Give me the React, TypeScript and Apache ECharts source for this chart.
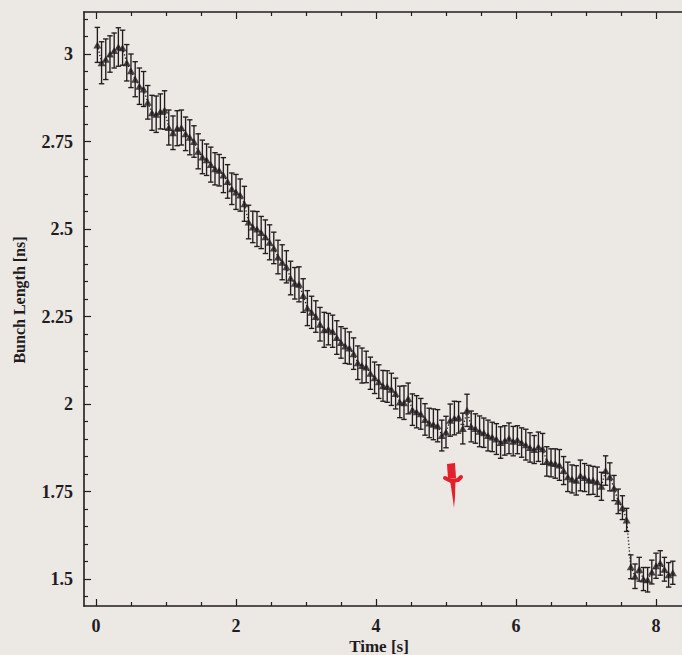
import React, { useEffect, useRef } from "react";
import * as echarts from "echarts";

// ---- data ----
const times = [
  0.02, 0.08, 0.14, 0.2, 0.26, 0.32, 0.38, 0.44, 0.5, 0.56,
  0.62, 0.68, 0.74, 0.8, 0.86, 0.92, 0.98, 1.04, 1.1, 1.16,
  1.22, 1.28, 1.34, 1.4, 1.46, 1.52, 1.58, 1.64, 1.7, 1.76,
  1.82, 1.88, 1.94, 2.0, 2.06, 2.12, 2.18, 2.24, 2.3, 2.36,
  2.42, 2.48, 2.54, 2.6, 2.66, 2.72, 2.78, 2.84, 2.9, 2.96,
  3.02, 3.08, 3.14, 3.2, 3.26, 3.32, 3.38, 3.44, 3.5, 3.56,
  3.62, 3.68, 3.74, 3.8, 3.86, 3.92, 3.98, 4.04, 4.1, 4.16,
  4.22, 4.28, 4.34, 4.4, 4.46, 4.52, 4.58, 4.64, 4.7, 4.76,
  4.82, 4.88, 4.94, 5.0, 5.06, 5.12, 5.18, 5.24, 5.3, 5.36,
  5.42, 5.48, 5.54, 5.6, 5.66, 5.72, 5.78, 5.84, 5.9, 5.96,
  6.02, 6.08, 6.14, 6.2, 6.26, 6.32, 6.38, 6.44, 6.5, 6.56,
  6.62, 6.68, 6.74, 6.8, 6.86, 6.92, 6.98, 7.04, 7.1, 7.16,
  7.22, 7.28, 7.34, 7.4, 7.46, 7.52, 7.58, 7.64, 7.7, 7.76,
  7.82, 7.88, 7.94, 8.0, 8.06, 8.12, 8.18, 8.24,
];

const bunchLength = [
  3.026, 2.975, 2.985, 3.0, 3.01, 3.02, 3.018, 2.975, 2.952, 2.928,
  2.908, 2.9, 2.862, 2.832, 2.828, 2.836, 2.84, 2.79, 2.775, 2.788,
  2.79, 2.772, 2.762, 2.75, 2.722, 2.706, 2.698, 2.684, 2.672, 2.668,
  2.654, 2.636, 2.615, 2.606, 2.597, 2.572, 2.52, 2.506, 2.5, 2.49,
  2.478, 2.462, 2.446, 2.42, 2.405, 2.392, 2.36, 2.345, 2.342, 2.31,
  2.274, 2.262, 2.25, 2.228, 2.212, 2.214, 2.208, 2.19, 2.176, 2.166,
  2.16, 2.144, 2.118, 2.11, 2.106, 2.088, 2.075, 2.064, 2.052, 2.05,
  2.042, 2.03, 2.006, 2.004, 2.016, 1.984, 1.978, 1.972, 1.956, 1.946,
  1.942, 1.938, 1.91, 1.92, 1.954, 1.96, 1.962, 1.93, 1.982, 1.936,
  1.93, 1.922, 1.918, 1.91, 1.906, 1.9, 1.89, 1.896, 1.902, 1.894,
  1.898, 1.89, 1.884, 1.876, 1.87, 1.878, 1.872, 1.836, 1.832, 1.83,
  1.826, 1.81, 1.792, 1.786, 1.782, 1.796, 1.79, 1.783, 1.782, 1.778,
  1.765, 1.81, 1.792, 1.76, 1.722, 1.704, 1.669, 1.535, 1.508, 1.528,
  1.5, 1.498, 1.52, 1.538, 1.546, 1.528, 1.512, 1.518,
];

const errors = [
  0.05, 0.06, 0.058, 0.052, 0.05, 0.055, 0.05, 0.052, 0.048, 0.05,
  0.052, 0.05, 0.048, 0.05, 0.052, 0.05, 0.055, 0.05, 0.048, 0.05,
  0.05, 0.048, 0.05, 0.045, 0.05, 0.048, 0.045, 0.05, 0.046, 0.045,
  0.05, 0.048, 0.045, 0.05, 0.046, 0.05, 0.048, 0.045, 0.05, 0.046,
  0.048, 0.05, 0.045, 0.048, 0.05, 0.046, 0.048, 0.045, 0.05, 0.048,
  0.05, 0.046, 0.045, 0.048, 0.05, 0.045, 0.046, 0.048, 0.045, 0.05,
  0.046, 0.045, 0.048, 0.05, 0.045, 0.046, 0.045, 0.048, 0.044, 0.045,
  0.046, 0.044, 0.045, 0.048, 0.044, 0.045, 0.046, 0.044, 0.045, 0.042,
  0.044, 0.046, 0.044, 0.045, 0.046, 0.048, 0.045, 0.044, 0.046, 0.044,
  0.042, 0.044, 0.042, 0.044, 0.042, 0.044, 0.045, 0.042, 0.044, 0.042,
  0.04, 0.042, 0.044, 0.042, 0.04, 0.042, 0.044, 0.042, 0.04, 0.042,
  0.044, 0.04, 0.042, 0.04, 0.042, 0.044, 0.04, 0.042, 0.04, 0.042,
  0.04, 0.042, 0.04, 0.036, 0.035, 0.034, 0.033, 0.034, 0.035, 0.034,
  0.033, 0.035, 0.034, 0.036, 0.035, 0.034, 0.035, 0.033,
];

const xMajorTicks = [0, 2, 4, 6, 8];
const xMinorTicks = [0.5, 1, 1.5, 2.5, 3, 3.5, 4.5, 5, 5.5, 6.5, 7, 7.5];
const yMajorTicks = [1.5, 1.75, 2, 2.25, 2.5, 2.75, 3];
const yMinorTicks = [
  1.45, 1.55, 1.6, 1.65, 1.7, 1.8, 1.85, 1.9, 1.95, 2.05, 2.1, 2.15, 2.2,
  2.3, 2.35, 2.4, 2.45, 2.55, 2.6, 2.65, 2.7, 2.8, 2.85, 2.9, 2.95, 3.05, 3.1,
];

// the frame continues past the right edge of the picture
const X_MIN = -0.171;
const X_MAX = 8.514;
const Y_MIN = 1.423;
const Y_MAX = 3.12;

const INK = "#221b1f";
const PAPER = "#ece9e4";
const RED = "#e3202c";
const FONT = '"Liberation Serif", "Times New Roman", serif';

export default function App() {
  const ref = useRef<HTMLDivElement>(null);

  useEffect(() => {
    if (!ref.current) return;
    document.body.style.margin = "0";
    document.body.style.background = PAPER;
    const chart = echarts.init(ref.current, undefined, { renderer: "svg" });

    const base = (min: number, max: number, position: string, gridIndex: number) => ({
      type: "value",
      gridIndex,
      min,
      max,
      position,
      splitLine: { show: false },
      axisLine: { show: false, onZero: false },
      axisLabel: { show: false },
      axisTick: { show: false },
    });

    const tick = (values: number[], length: number) => ({
      show: true,
      inside: true,
      length,
      customValues: values,
      lineStyle: { color: INK, width: 1.2 },
    });

    const frameLine = { show: true, onZero: false, lineStyle: { color: INK, width: 1.6 } };

    const labelStyle = {
      color: INK,
      fontFamily: FONT,
      fontWeight: "bold",
      fontSize: 18,
      lineHeight: 16,
    };

    const pointData = times.map((t, i) => [t, bunchLength[i]]);
    // [time, low, high, value, next time, next value]
    const errData = times.map((t, i) => {
      const j = Math.min(i + 1, times.length - 1);
      return [t, bunchLength[i] - errors[i], bunchLength[i] + errors[i], bunchLength[i], times[j], bunchLength[j]];
    });

    const gridBox = { left: 84, top: 12, right: -10, bottom: 49, containLabel: false, outerBoundsMode: "none" };

    chart.setOption({
      animation: false,
      backgroundColor: PAPER,
      grid: [gridBox, { ...gridBox }],
      xAxis: [
        {
          ...base(X_MIN, X_MAX, "bottom", 0),
          axisLine: frameLine,
          axisTick: tick(xMajorTicks, 7),
          axisLabel: { show: true, customValues: xMajorTicks, margin: 12, ...labelStyle },
        },
        { ...base(X_MIN, X_MAX, "top", 0), axisLine: frameLine, axisTick: tick(xMajorTicks, 7) },
        { ...base(X_MIN, X_MAX, "bottom", 1), axisTick: tick(xMinorTicks, 4) },
        { ...base(X_MIN, X_MAX, "top", 1), axisTick: tick(xMinorTicks, 4) },
      ],
      yAxis: [
        {
          ...base(Y_MIN, Y_MAX, "left", 0),
          axisLine: frameLine,
          axisTick: tick(yMajorTicks, 7),
          axisLabel: { show: true, customValues: yMajorTicks, margin: 11, ...labelStyle },
        },
        { ...base(Y_MIN, Y_MAX, "left", 1), axisTick: tick(yMinorTicks, 4) },
      ],
      series: [
        {
          type: "custom",
          xAxisIndex: 0,
          yAxisIndex: 0,
          data: errData,
          encode: { x: 0, y: [1, 2] },
          renderItem: (params: any, api: any) => {
            const x = api.value(0);
            const top = api.coord([x, api.value(2)]);
            const bot = api.coord([x, api.value(1)]);
            const here = api.coord([x, api.value(3)]);
            const next = api.coord([api.value(4), api.value(5)]);
            const cap = 2.7;
            const style = { stroke: INK, lineWidth: 1.35 };
            return {
              type: "group",
              children: [
                {
                  type: "line",
                  shape: { x1: here[0], y1: here[1], x2: next[0], y2: next[1] },
                  style: { stroke: INK, lineWidth: 1.3, lineDash: [1.3, 2.1] },
                },
                { type: "line", shape: { x1: top[0], y1: top[1], x2: bot[0], y2: bot[1] }, style },
                { type: "line", shape: { x1: top[0] - cap, y1: top[1], x2: top[0] + cap, y2: top[1] }, style },
                { type: "line", shape: { x1: bot[0] - cap, y1: bot[1], x2: bot[0] + cap, y2: bot[1] }, style },
              ],
            };
          },
          z: 2,
        },
        {
          type: "scatter",
          xAxisIndex: 0,
          yAxisIndex: 0,
          data: pointData,
          symbol: "triangle",
          symbolSize: [8, 7],
          itemStyle: { color: INK },
          z: 3,
        },
      ],
      graphic: [
        {
          type: "rect",
          shape: { x: 678, y: 13.5, width: 6, height: 591 },
          style: { fill: PAPER },
          z: 100,
        },
        {
          type: "text",
          x: 379,
          y: 646,
          style: {
            text: "Time [s]",
            font: `bold 17px ${FONT}`,
            fill: INK,
            align: "center",
            verticalAlign: "middle",
          },
        },
        {
          type: "text",
          x: 19,
          y: 300,
          rotation: Math.PI / 2,
          style: {
            text: "Bunch Length [ns]",
            font: `bold 16px ${FONT}`,
            fill: INK,
            align: "center",
            verticalAlign: "middle",
          },
        },
        {
          type: "polygon",
          shape: { points: [[447, 464], [455, 463], [456, 478], [448, 479]] },
          style: { fill: RED },
        },
        {
          type: "polyline",
          shape: { points: [[445, 478], [451, 481], [458, 480], [461, 477]] },
          style: { stroke: RED, lineWidth: 4, lineCap: "round", lineJoin: "round" },
        },
        {
          type: "polygon",
          shape: { points: [[450, 480], [455.5, 480], [455, 497], [454, 508], [452.5, 497]] },
          style: { fill: RED },
        },
      ],
    });

    return () => chart.dispose();
  }, []);

  return (
    <div
      ref={ref}
      style={{ position: "fixed", left: 0, top: 0, width: 682, height: 655 }}
    />
  );
}
